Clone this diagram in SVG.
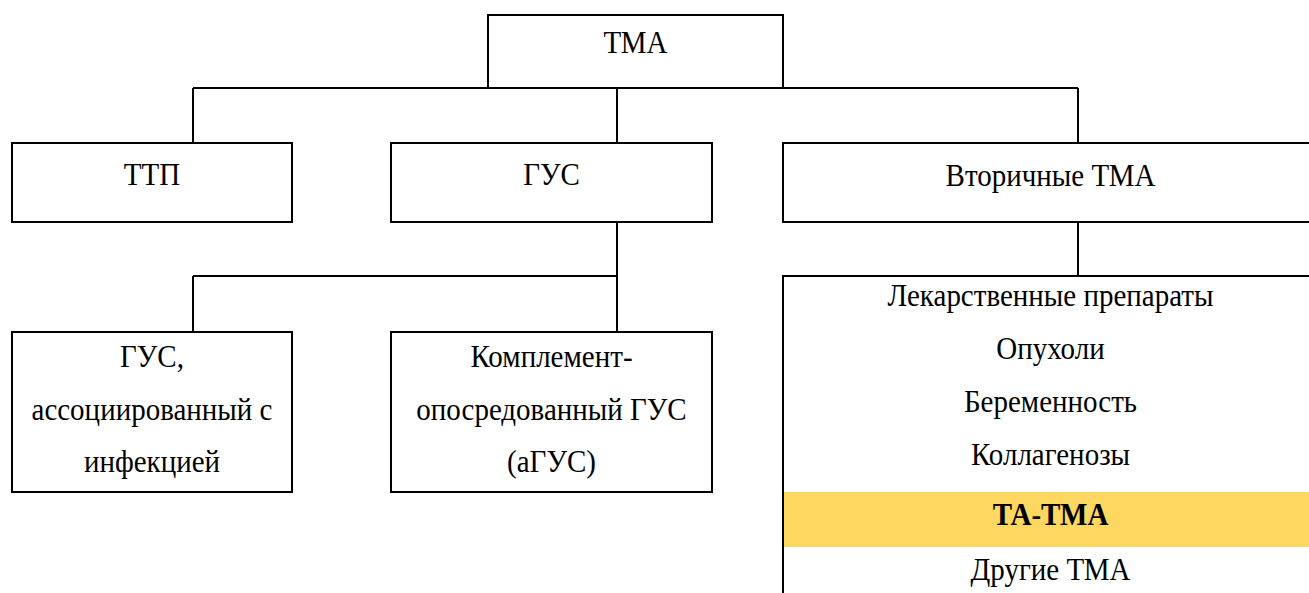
<svg xmlns="http://www.w3.org/2000/svg" width="1309" height="593" viewBox="0 0 1309 593">
<style>
.box{fill:#fff;stroke:#000;stroke-width:2}
.ln{fill:none;stroke:#000;stroke-width:2}
.t{font-family:'Liberation Serif','Times New Roman',serif;font-size:29px;fill:#000;text-anchor:middle}
.b{font-weight:bold}
</style>
<rect width="1309" height="593" fill="#fff"/>
<g id="connectors">
<path class="ln" d="M193 88H1078M193 88V143M617 88V143M1078 88V143"/>
<path class="ln" d="M617 222V332M193 276H617M193 276V332"/>
<path class="ln" d="M1078 222V276"/>
</g>
<g id="tma">
<rect class="box" x="488" y="15" width="295" height="73"/>
<text class="t" transform="translate(635.5 53) scale(1 1.09)">ТМА</text>
</g>
<g id="ttp">
<rect class="box" x="12" y="143" width="280" height="79"/>
<text class="t" transform="translate(152 185) scale(1 1.09)">ТТП</text>
</g>
<g id="gus">
<rect class="box" x="391" y="143" width="321" height="79"/>
<text class="t" transform="translate(551.5 185) scale(1 1.09)">ГУС</text>
</g>
<g id="secondary">
<rect class="box" x="783" y="143" width="536" height="79"/>
<text class="t" transform="translate(1050.5 185.5) scale(1 1.09)">Вторичные ТМА</text>
</g>
<g id="gus-infection">
<rect class="box" x="12" y="332" width="280" height="160"/>
<text class="t" transform="translate(152 367) scale(1 1.09)">ГУС,</text>
<text class="t" transform="translate(152 420) scale(1 1.09)">ассоциированный с</text>
<text class="t" transform="translate(152 472) scale(1 1.09)">инфекцией</text>
</g>
<g id="agus">
<rect class="box" x="391" y="332" width="321" height="160"/>
<text class="t" transform="translate(551.5 367) scale(1 1.09)">Комплемент-</text>
<text class="t" transform="translate(551.5 420) scale(1 1.09)">опосредованный ГУС</text>
<text class="t" transform="translate(551.5 472) scale(1 1.09)">(аГУС)</text>
</g>
<g id="secondary-list">
<path class="ln" d="M783 600V276H1320"/>
<rect x="784" y="492" width="530" height="55" fill="#fed761"/>
<text class="t" transform="translate(1050.5 306) scale(1 1.09)">Лекарственные препараты</text>
<text class="t" transform="translate(1050.5 359) scale(1 1.09)">Опухоли</text>
<text class="t" transform="translate(1050.5 412) scale(1 1.09)">Беременность</text>
<text class="t" transform="translate(1050.5 465) scale(1 1.09)">Коллагенозы</text>
<text class="t b" transform="translate(1050.5 525) scale(1 1.09)">ТА-ТМА</text>
<text class="t" transform="translate(1050.5 580) scale(1 1.09)">Другие ТМА</text>
</g>
</svg>
